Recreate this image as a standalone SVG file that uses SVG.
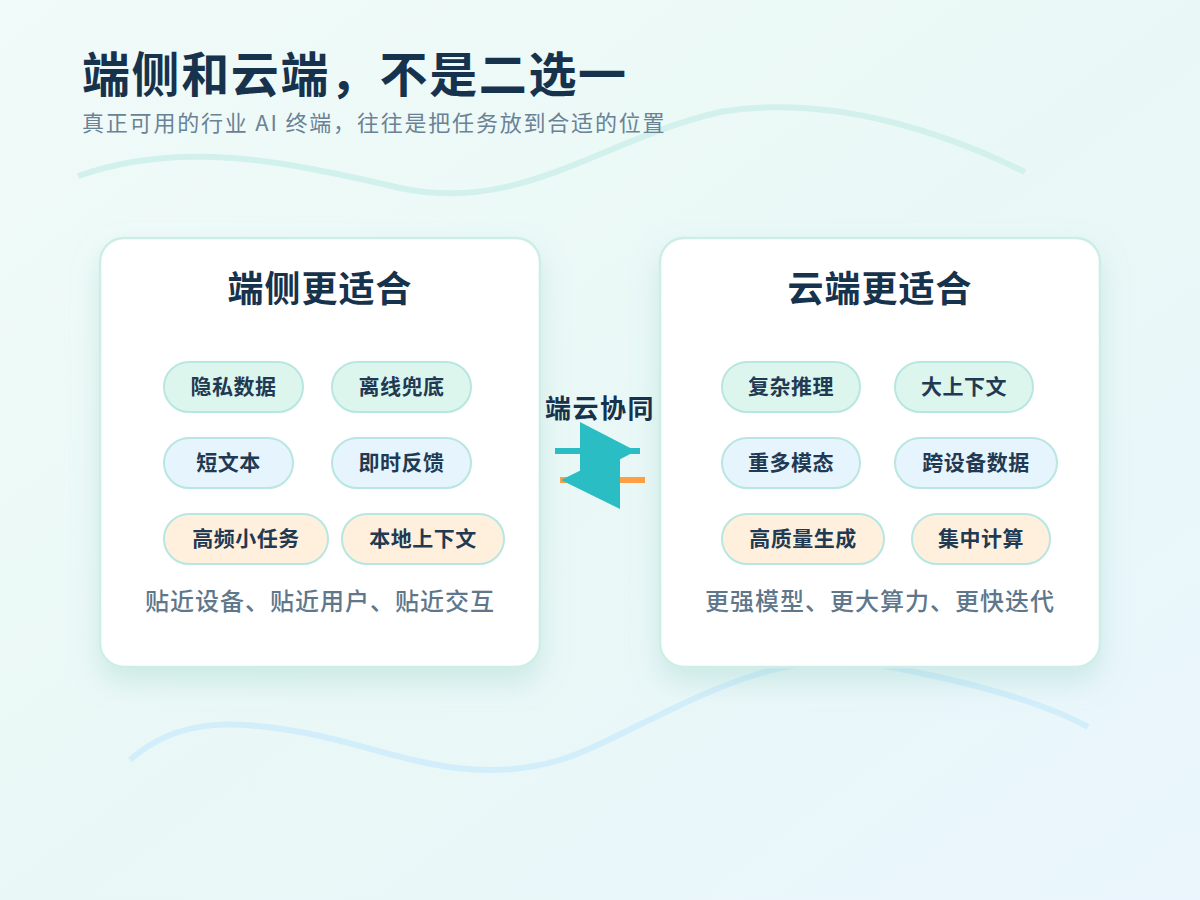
<svg xmlns="http://www.w3.org/2000/svg" width="1200" height="900" viewBox="0 0 1200 900">
<defs>
<linearGradient id="bg" x1="0" y1="0" x2="1" y2="1">
<stop offset="0" stop-color="#f1fbf9"/>
<stop offset="0.5" stop-color="#e9f8f6"/>
<stop offset="1" stop-color="#eaf5fd"/>
</linearGradient>
<filter id="sh" x="-20%" y="-20%" width="140%" height="150%">
<feDropShadow dx="0" dy="14" stdDeviation="14" flood-color="#7fc4b8" flood-opacity="0.28"/>
</filter>
<style>
.card{fill:#ffffff;stroke:#cdeee6;stroke-width:2.5}
.ct{font-family:"Noto Sans CJK SC","Noto Sans",sans-serif;font-weight:700;font-size:36px;letter-spacing:1px;fill:#17324d;text-anchor:middle}
.pill{stroke:#b8e6e0;stroke-width:2}
.g{fill:#dcf6ee}.b{fill:#e6f4fd}.o{fill:#fff0de}
.pt{font-family:"Noto Sans CJK SC","Noto Sans",sans-serif;font-weight:700;font-size:21px;letter-spacing:0.5px;fill:#1f3a52;text-anchor:middle}
.ft{font-family:"Noto Sans CJK SC","Noto Sans",sans-serif;font-weight:500;font-size:24px;letter-spacing:1px;fill:#5f778b;text-anchor:middle}
</style>
</defs>
<rect width="1200" height="900" fill="url(#bg)"/>
<path d="M78,176 C180,140 280,160 400,188 C520,214 600,140 720,112 C840,92 960,140 1025,172" fill="none" stroke="#d3f1ec" stroke-width="6"/>
<path d="M130,760 C180,715 240,722 300,732 C380,745 460,790 560,760 C640,735 760,640 880,665 C960,680 1040,700 1088,727" fill="none" stroke="#d2eefb" stroke-width="6"/>

<g id="title">
<text x="82" y="92" font-family="Noto Sans CJK SC, Noto Sans, sans-serif" font-weight="700" font-size="48" letter-spacing="1.6" fill="#17324d">端侧和云端，不是二选一</text>
<text x="82" y="131" font-family="Noto Sans CJK SC, Noto Sans, sans-serif" font-size="22" letter-spacing="1.8" fill="#6a8296">真正可用的行业 AI 终端，往往是把任务放到合适的位置</text>
</g>

<g id="edge-card">
<rect class="card" x="100" y="238" width="440" height="429" rx="24" filter="url(#sh)"/>
<text class="ct" x="320" y="302">端侧更适合</text>
<rect class="pill g" x="164" y="362" width="139" height="50" rx="25"/><text class="pt" x="233.5" y="394">隐私数据</text>
<rect class="pill g" x="332" y="362" width="139" height="50" rx="25"/><text class="pt" x="401.5" y="394">离线兜底</text>
<rect class="pill b" x="164" y="438" width="129" height="50" rx="25"/><text class="pt" x="228.5" y="470">短文本</text>
<rect class="pill b" x="332" y="438" width="139" height="50" rx="25"/><text class="pt" x="401.5" y="470">即时反馈</text>
<rect class="pill o" x="164" y="514" width="164" height="50" rx="25"/><text class="pt" x="246" y="546">高频小任务</text>
<rect class="pill o" x="342" y="514" width="162" height="50" rx="25"/><text class="pt" x="423" y="546">本地上下文</text>
<text class="ft" x="320" y="610">贴近设备、贴近用户、贴近交互</text>
</g>

<g id="cloud-card">
<rect class="card" x="660" y="238" width="440" height="429" rx="24" filter="url(#sh)"/>
<text class="ct" x="880" y="302">云端更适合</text>
<rect class="pill g" x="722" y="362" width="138" height="50" rx="25"/><text class="pt" x="791" y="394">复杂推理</text>
<rect class="pill g" x="895" y="362" width="138" height="50" rx="25"/><text class="pt" x="964" y="394">大上下文</text>
<rect class="pill b" x="722" y="438" width="138" height="50" rx="25"/><text class="pt" x="791" y="470">重多模态</text>
<rect class="pill b" x="895" y="438" width="162" height="50" rx="25"/><text class="pt" x="976" y="470">跨设备数据</text>
<rect class="pill o" x="722" y="514" width="162" height="50" rx="25"/><text class="pt" x="803" y="546">高质量生成</text>
<rect class="pill o" x="912" y="514" width="138" height="50" rx="25"/><text class="pt" x="981" y="546">集中计算</text>
<text class="ft" x="880" y="610">更强模型、更大算力、更快迭代</text>
</g>

<g id="connectors">
<text x="600" y="418" font-family="Noto Sans CJK SC, Noto Sans, sans-serif" font-weight="700" font-size="26" letter-spacing="1.5" fill="#17324d" text-anchor="middle">端云协同</text>
<line x1="555" y1="451" x2="640" y2="451" stroke="#2bbdc4" stroke-width="6"/>
<line x1="560" y1="480" x2="645" y2="480" stroke="#ff9f43" stroke-width="6"/>
<polygon points="580,422 636,451 580,480" fill="#2bbdc4"/>
<polygon points="620,451 561,480 620,509" fill="#2bbdc4"/>
</g>
</svg>
